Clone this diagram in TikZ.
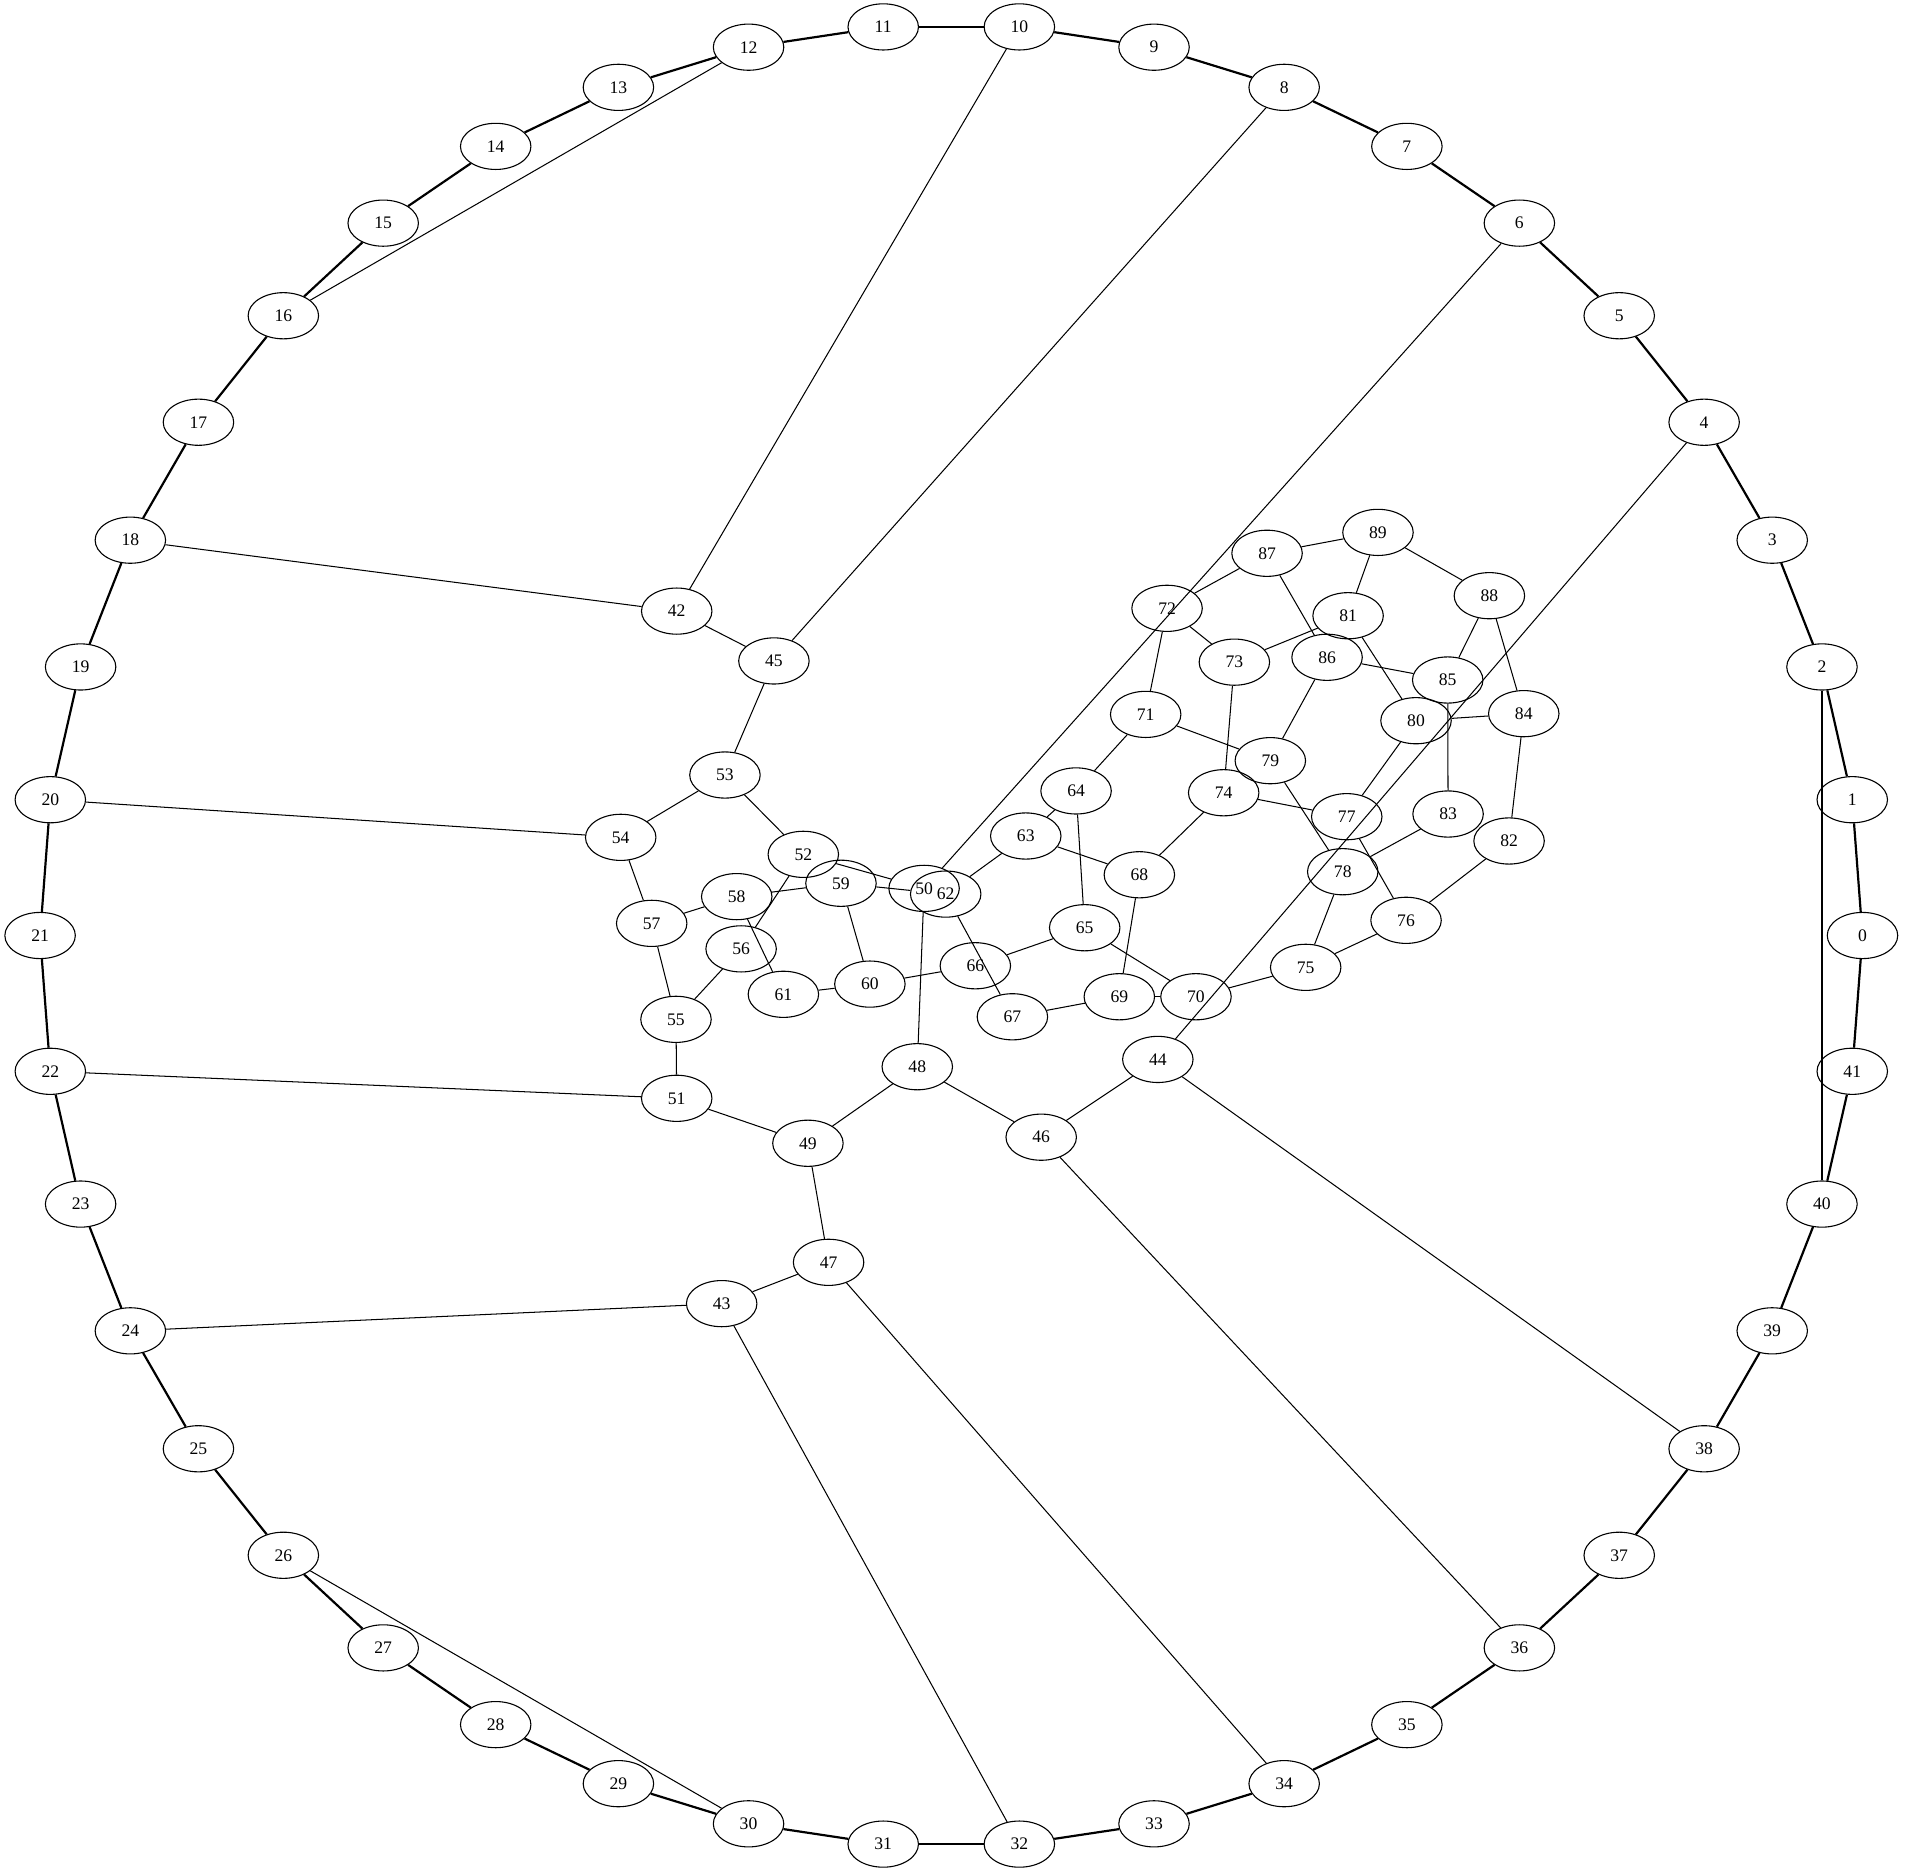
\documentclass[tikz,border=0pt]{standalone}
\usepackage{fontspec}
\setmainfont{Liberation Serif}
\usetikzlibrary{shapes.geometric}
\begin{document}
\begin{tikzpicture}[x=1pt,y=-1pt,
  vtx/.style={draw,ellipse,line width=0.9pt,minimum width=58pt,minimum height=38pt,inner sep=0pt,font=\fontsize{14.5}{17}\selectfont},
  ringedge/.style={line width=1.8pt},
  thinedge/.style={line width=0.85pt}]
\useasboundingbox (0,0) rectangle (1568,1543);
% ring nodes
\foreach \k in {0,...,41}{
  \pgfmathsetmacro\xx{783+750*cos(\k*360/42)}
  \pgfmathsetmacro\yy{770-750*sin(\k*360/42)}
  \node[vtx] (n\k) at (\xx,\yy) {\k};
}
% inner nodes
\foreach \k/\xx/\yy in {42/557/503,43/594/1073,44/953/872,45/637/544,46/857/936,47/682/1039,48/755/878,49/665/941,
  50/760.6/731.2,51/557/904,52/661.2/703.2,53/596.7/637.9,54/510.9/689.2,55/556.4/839,56/610/781,57/536.4/760,
  58/606.4/738,59/692.2/727,60/716/810,61/644.8/818.4,62/778.4/735.9,63/844.3/688.1,64/885.7/651,65/892.8/763.6,
  66/802.8/794.9,67/833.3/836.9,68/937.8/720,69/921.3/820.4,70/984.4/820.4,71/943/588,72/960.6/500.7,73/1016/545,
  74/1007.2/652.5,75/1074.7/796.2,76/1157.3/757.5,77/1108.5/672.2,78/1105.2/717.5,79/1045.6/626.1,80/1165.5/593.2,
  81/1109.6/506.8,82/1242.1/692.2,83/1191.9/670,84/1254.2/587.4,85/1191.6/559.7,86/1092.3/541,87/1042.9/455.4,
  88/1225.9/490.3,89/1134.2/438.2}{
  \node[vtx] (n\k) at (\xx,\yy) {\k};
}
% ring edges
\foreach \k in {0,...,41}{
  \pgfmathtruncatemacro\nx{mod(\k+1,42)}
  \draw[ringedge] (n\k) -- (n\nx);
}
% chords and inner edges
\foreach \a/\b in {2/40,4/44,6/50,8/45,10/42,12/16,18/42,20/54,22/51,24/43,26/30,32/43,34/47,36/46,38/44,
  42/45,45/53,53/54,53/52,54/57,57/58,57/55,55/56,55/51,51/49,49/48,49/47,47/43,48/46,46/44,48/50,52/50,52/56,
  58/59,58/61,59/62,59/60,61/60,60/66,66/65,62/63,62/67,63/64,63/68,64/65,64/71,65/70,67/69,68/69,68/74,69/70,
  70/75,71/72,71/79,72/73,72/87,73/74,73/81,74/77,79/86,79/78,77/80,77/76,78/75,78/83,75/76,76/82,80/81,80/84,
  81/89,86/87,86/85,85/88,85/83,88/89,88/84,84/82,89/87}{
  \draw[thinedge] (n\a) -- (n\b);
}
\end{tikzpicture}
\end{document}
